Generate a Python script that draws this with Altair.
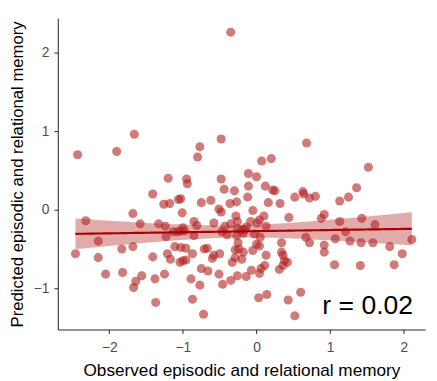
import altair as alt
import pandas as pd
import numpy as np

# Observed (x) and predicted (y) episodic & relational memory scores
observed = [
    -0.35, -2.43, -1.90, -1.66, -0.77, -0.80, -0.48, 0.68, 0.07, 0.20,
    1.52, -1.20, -0.95, -0.94, -0.11, 0.00, -0.48, -0.44, -0.30, -0.11,
    0.12, 0.22, 0.25, 0.63, 1.36, -1.41, -1.68, -2.32, -1.58, -1.26,
    -1.18, -1.06, -1.03, -0.75, -0.62, -0.36, -0.27, -0.51, -0.48, -1.01,
    -0.28, -0.85, -1.33, -0.58, -0.35, -0.26, 0.52, 0.64, 0.72, 0.80,
    -0.12, 0.16, 0.32, -0.05, 0.10, 0.44, 0.88, 0.92, -0.08, 0.04,
    0.01, 1.25, 1.13, 1.13, 1.43, 1.61, -2.46, -2.15, -2.15, -2.05,
    -1.82, -1.83, -1.68, -1.56, -1.64, -1.67, -1.41, -1.38, -1.37, -1.25,
    -1.23, -1.21, -1.17, -1.13, -1.07, -1.03, -0.98, -1.00, -1.11, -1.03,
    -0.96, -1.04, -1.00, -0.96, -0.85, -0.81, -0.89, -0.87, -0.77, -0.75,
    -0.72, -0.71, -0.67, -0.66, -0.60, -0.58, -1.24, -0.47, -0.40, -0.43,
    -0.26, -0.27, -0.87, -0.50, -0.33, -0.29, -0.24, -0.29, -0.51, -0.46,
    -0.35, -0.26, -0.16, -0.20, -0.14, -0.18, 0.67, 0.72, 0.92, 0.92,
    0.34, 0.34, 0.36, 0.38, 0.36, 0.42, 0.31, -0.18, -0.05, 0.00,
    0.04, 0.13, 0.11, 0.06, 0.04, -0.07, -0.14, -0.20, -0.25, -0.03,
    0.05, 0.13, 0.03, 0.14, 0.43, 0.60, 0.52, 1.21, 1.07, 1.27,
    1.42, 1.58, 1.81, 1.98, 2.11, 1.06, 1.41, 1.87,
]
predicted = [
    2.26, 0.70, 0.74, 0.96, 0.80, 0.67, 0.90, 0.85, 0.62, 0.65,
    0.54, 0.40, 0.39, 0.33, 0.46, 0.42, 0.39, 0.26, 0.24, 0.30,
    0.30, 0.25, 0.24, 0.23, 0.28, 0.20, -0.05, -0.14, -0.18, 0.07,
    0.08, 0.13, 0.14, 0.09, 0.12, 0.08, 0.10, 0.01, -0.03, -0.04,
    -0.08, -0.15, -0.18, -0.17, -0.18, -0.15, 0.16, 0.20, 0.15, 0.17,
    0.16, 0.09, 0.08, -0.01, -0.08, -0.10, -0.11, -0.06, -0.15, -0.13,
    -0.17, 0.16, 0.11, -0.15, -0.11, -0.19, -0.56, -0.40, -0.61, -0.82,
    -0.80, -0.50, -0.47, -0.84, -0.91, -0.99, -0.60, -0.88, -1.18, -0.82,
    -0.34, -0.56, -0.63, -0.28, -0.28, -0.27, -0.27, -0.23, -0.47, -0.48,
    -0.49, -0.67, -0.65, -0.64, -0.33, -0.20, -0.88, -1.14, -0.96, -0.75,
    -1.33, -0.50, -0.49, -0.78, -0.62, -0.58, -0.21, -0.28, -0.32, -0.21,
    -0.24, -0.33, -0.56, -0.56, -0.67, -0.61, -0.50, -0.51, -0.82, -0.95,
    -0.90, -0.84, -0.25, -0.26, -0.22, -0.30, -0.35, -0.42, -0.45, -0.54,
    -0.42, -0.54, -0.58, -0.65, -0.71, -0.67, -0.76, -0.54, -0.52, -0.44,
    -0.46, -0.58, -0.71, -0.75, -0.81, -0.77, -0.85, -0.63, -0.42, -0.31,
    -0.35, -0.21, -1.12, -1.08, -1.15, -1.05, -1.35, -0.28, -0.37, -0.40,
    -0.42, -0.42, -0.47, -0.56, -0.38, -0.70, -0.71, -0.70,
]
x_ticks = [-2, -1, 0, 1, 2]
y_ticks = [-1, 0, 1, 2]
annot_text = ["r = 0.02"]
annot_x = [1.51]
annot_y = [-1.33]

pts = pd.DataFrame({"obs": observed, "pred": predicted})

# linear fit with 95% confidence band (computed from the data)
xa = np.array(observed)
ya = np.array(predicted)
n = len(xa)
slope, intercept = np.polyfit(xa, ya, 1)
xs = np.linspace(xa.min(), xa.max(), 80)
fit = intercept + slope * xs
resid = ya - (intercept + slope * xa)
s = np.sqrt((resid ** 2).sum() / (n - 2))
sxx = ((xa - xa.mean()) ** 2).sum()
se = s * np.sqrt(1.0 / n + (xs - xa.mean()) ** 2 / sxx)
tcrit = 1.973
band = pd.DataFrame({"obs": xs, "fit": fit, "lo": fit - tcrit * se, "hi": fit + tcrit * se})
annot = pd.DataFrame({"x": annot_x, "y": annot_y, "t": annot_text})

FONT = "Liberation Sans"
xscale = alt.Scale(domain=[-2.7, 2.29], nice=False, zero=False)
yscale = alt.Scale(domain=[-1.525, 2.4375], nice=False, zero=False)

xaxis = alt.Axis(values=x_ticks, format="d", title="Observed episodic and relational memory", grid=False,
                 labelFontSize=14, labelColor="#4d4d4d", labelFont=FONT, labelPadding=7,
                 titleFontSize=17.5, titleFont=FONT, titleFontWeight="normal", titleColor="black",
                 titlePadding=8, tickSize=4, tickColor="#222222", domainColor="#222222", domainWidth=1)
yaxis = alt.Axis(values=y_ticks, format="d", title="Predicted episodic and relational memory", grid=False,
                 labelFontSize=14, labelColor="#4d4d4d", labelFont=FONT, labelPadding=5,
                 titleFontSize=17, titleFont=FONT, titleFontWeight="normal", titleColor="black",
                 titlePadding=7, tickSize=4, tickColor="#222222", domainColor="#222222", domainWidth=1)

points = alt.Chart(pts).mark_circle(size=85, color="#B22222", opacity=0.6).encode(
    x=alt.X("obs:Q", scale=xscale, axis=xaxis),
    y=alt.Y("pred:Q", scale=yscale, axis=yaxis),
)
ribbon = alt.Chart(band).mark_area(color="#B22222", opacity=0.38).encode(
    x=alt.X("obs:Q", scale=xscale),
    y=alt.Y("lo:Q", scale=yscale),
    y2="hi:Q",
)
line = alt.Chart(band).mark_line(color="#AA0000", strokeWidth=2.2).encode(
    x=alt.X("obs:Q", scale=xscale),
    y=alt.Y("fit:Q", scale=yscale),
)
text = alt.Chart(annot).mark_text(fontSize=27, font=FONT, color="black", align="center",
                                  baseline="alphabetic").encode(
    x=alt.X("x:Q", scale=xscale),
    y=alt.Y("y:Q", scale=yscale),
    text="t:N",
)

chart = alt.layer(points, ribbon, line, text).properties(
    width=374, height=317,
    autosize=alt.AutoSizeParams(type="none"),
    padding={"left": 50.7, "top": 7, "right": 4, "bottom": 48},
).configure_view(stroke=None)

chart.save("out.html", embed_options={"renderer": "svg", "actions": False})
